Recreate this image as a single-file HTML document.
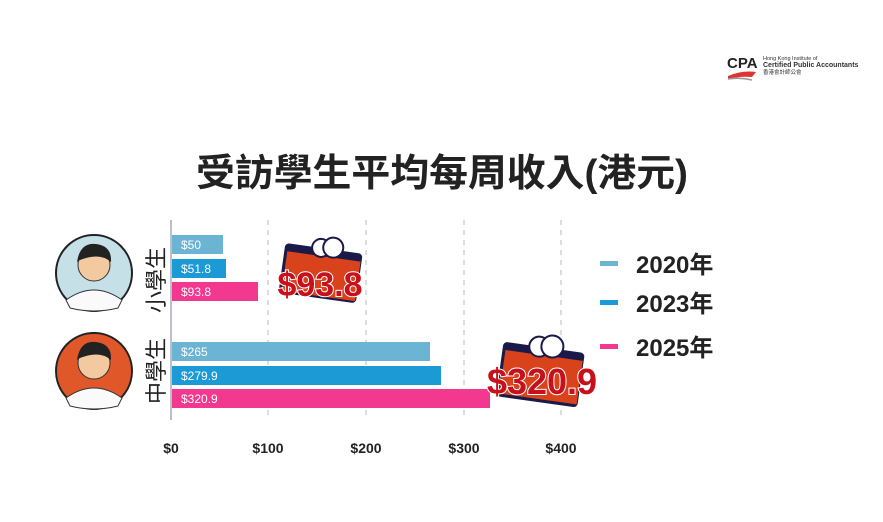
<!DOCTYPE html>
<html><head><meta charset="utf-8"><style>
body{margin:0;background:#fff;}
svg{display:block;font-family:"Liberation Sans","Noto Sans CJK TC",sans-serif;}
</style></head><body>
<svg width="883" height="522" viewBox="0 0 883 522">
<rect width="883" height="522" fill="#fff"/>
<!-- logo -->
<text x="727" y="68" font-size="15" font-weight="bold" fill="#222">CPA</text>
<path d="M728 76 Q742 70 756 72 L752 77 Q740 76 728 79Z" fill="#d33"/>
<path d="M728 79 Q740 77 752 80" stroke="#999" stroke-width="1.5" fill="none"/>
<text x="763" y="60" font-size="5.5" fill="#333">Hong Kong Institute of</text>
<text x="763" y="67" font-size="7" font-weight="bold" fill="#333">Certified Public Accountants</text>
<text x="763" y="74" font-size="5.5" fill="#333">香港會計師公會</text>
<!-- title -->
<text x="442" y="186" text-anchor="middle" font-size="38" font-weight="bold" fill="#222" textLength="492" lengthAdjust="spacingAndGlyphs">受訪學生平均每周收入(港元)</text>
<!-- grid -->
<g stroke="#bbb" stroke-dasharray="5,5" stroke-width="1">
<line x1="268" y1="220" x2="268" y2="420"/><line x1="366" y1="220" x2="366" y2="420"/>
<line x1="464" y1="220" x2="464" y2="420"/><line x1="561" y1="220" x2="561" y2="420"/>
</g>
<line x1="171" y1="220" x2="171" y2="420" stroke="#aab" stroke-width="1.5"/>
<!-- bars -->
<g font-size="12" fill="#fff">
<rect x="172" y="235" width="51" height="19" fill="#6cb4d4"/><text x="181" y="249">$50</text>
<rect x="172" y="259" width="54" height="19" fill="#1b9ad6"/><text x="181" y="273">$51.8</text>
<rect x="172" y="282" width="86" height="19" fill="#f2388f"/><text x="181" y="296">$93.8</text>
<rect x="172" y="342" width="258" height="19" fill="#6cb4d4"/><text x="181" y="356">$265</text>
<rect x="172" y="366" width="269" height="19" fill="#1b9ad6"/><text x="181" y="380">$279.9</text>
<rect x="172" y="389" width="318" height="19" fill="#f2388f"/><text x="181" y="403">$320.9</text>
</g>
<!-- ticks -->
<g font-size="14" font-weight="bold" fill="#222" text-anchor="middle">
<text x="171" y="453">$0</text><text x="268" y="453">$100</text><text x="366" y="453">$200</text><text x="464" y="453">$300</text><text x="561" y="453">$400</text>
</g>
<!-- vertical labels -->
<g font-size="22" fill="#222" text-anchor="middle">
<text transform="translate(164,280) rotate(-90)">小學生</text>
<text transform="translate(164,371) rotate(-90)">中學生</text>
</g>
<!-- avatars -->
<circle cx="94" cy="273" r="38" fill="#c5e0e6" stroke="#222" stroke-width="2"/>
<path d="M66 300 Q94 280 122 300 L118 308 Q94 314 70 308Z" fill="#fafafa" stroke="#333"/>
<circle cx="94" cy="265" r="16" fill="#f3c9a0" stroke="#333"/>
<path d="M77 262 Q80 242 96 244 Q112 246 111 262 Q100 252 80 260Z" fill="#222"/>
<circle cx="94" cy="371" r="38" fill="#e0572a" stroke="#222" stroke-width="2"/>
<path d="M66 398 Q94 378 122 398 L118 406 Q94 412 70 406Z" fill="#fafafa" stroke="#333"/>
<circle cx="94" cy="363" r="16" fill="#f3c9a0" stroke="#333"/>
<path d="M77 360 Q80 340 96 342 Q112 344 111 360 Q100 350 80 358Z" fill="#222"/>
<!-- wallets -->
<g transform="rotate(8 320 270)">
<rect x="282" y="248" width="78" height="50" rx="4" fill="#1a1a4a"/>
<rect x="285" y="256" width="74" height="40" fill="#d9431c"/>
<circle cx="318" cy="248" r="9" fill="#fff" stroke="#1a1a4a" stroke-width="2"/>
<circle cx="330" cy="246" r="10" fill="#fff" stroke="#1a1a4a" stroke-width="2"/>
</g>
<text x="320" y="296" text-anchor="middle" font-size="34" font-weight="bold" fill="#c8101c" stroke="#fff" stroke-width="2" paint-order="stroke">$93.8</text>
<g transform="rotate(8 540 370)">
<rect x="500" y="347" width="82" height="55" rx="4" fill="#1a1a4a"/>
<rect x="503" y="355" width="78" height="44" fill="#d9431c"/>
<circle cx="536" cy="347" r="10" fill="#fff" stroke="#1a1a4a" stroke-width="2"/>
<circle cx="549" cy="345" r="11" fill="#fff" stroke="#1a1a4a" stroke-width="2"/>
</g>
<text x="542" y="394" text-anchor="middle" font-size="36" font-weight="bold" fill="#c8101c" stroke="#fff" stroke-width="2" paint-order="stroke">$320.9</text>
<!-- legend -->
<rect x="600" y="261" width="18" height="5" fill="#6cb4d4"/>
<rect x="600" y="300" width="18" height="5" fill="#1b9ad6"/>
<rect x="600" y="344" width="18" height="5" fill="#f2388f"/>
<g font-size="24" font-weight="bold" fill="#222">
<text x="636" y="273">2020年</text><text x="636" y="312">2023年</text><text x="636" y="356">2025年</text>
</g>
</svg>
</body></html>
